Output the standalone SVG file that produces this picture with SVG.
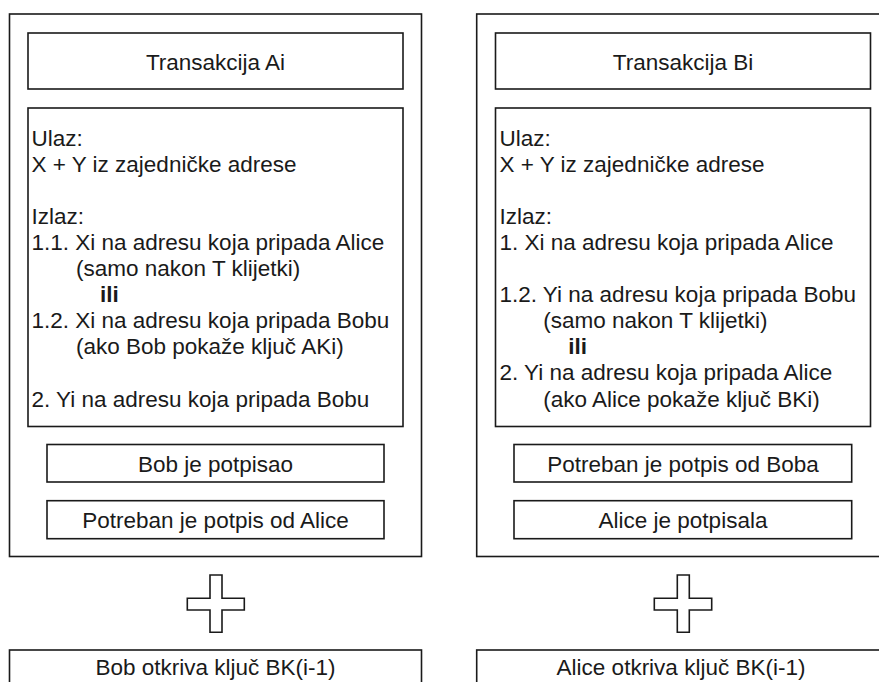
<svg xmlns="http://www.w3.org/2000/svg" width="879" height="682" viewBox="0 0 879 682">
<style>
.box{fill:#fff;stroke:#1a1a1a;stroke-width:1.6}
.t{font-family:"Liberation Sans",Arial,sans-serif;font-size:22.5px;fill:#1a1a1a}
.c{text-anchor:middle}
.b{font-weight:bold}
</style>
<rect width="879" height="682" fill="#fff"/>
<g id="txA">
<rect class="box" x="9.5" y="14" width="412" height="542.5"/>
<g id="titleA"><rect class="box" x="28" y="33" width="375" height="56"/><text class="t c" x="215.5" y="69.5">Transakcija Ai</text></g>
<g id="bodyA"><rect class="box" x="28" y="108" width="375" height="318.5"/>
<text class="t" x="31.5" y="145.5">Ulaz:</text>
<text class="t" x="31.5" y="171.6">X + Y iz zajedničke adrese</text>
<text class="t" x="31.5" y="223.8">Izlaz:</text>
<text class="t" x="31.5" y="249.9">1.1. Xi na adresu koja pripada Alice</text>
<text class="t" x="76" y="276">(samo nakon T klijetki)</text>
<text class="t b" x="100" y="302.1">ili</text>
<text class="t" x="31.5" y="328.2">1.2. Xi na adresu koja pripada Bobu</text>
<text class="t" x="76" y="354.3">(ako Bob pokaže ključ AKi)</text>
<text class="t" x="31.5" y="406.5">2. Yi na adresu koja pripada Bobu</text>
</g>
<g id="sigA1"><rect class="box" x="47" y="444.5" width="337" height="37.5"/><text class="t c" x="215.5" y="471.5">Bob je potpisao</text></g>
<g id="sigA2"><rect class="box" x="47" y="500.7" width="337" height="38"/><text class="t c" x="215.5" y="527.5">Potreban je potpis od Alice</text></g>
</g>
<g id="plusA"><path class="box" d="M210 575H222V598.3H244.3V610H222V632.3H210V610H187.3V598.3H210Z"/></g>
<g id="keyA"><rect class="box" x="9.5" y="650" width="412" height="40"/><text class="t c" x="215.5" y="675">Bob otkriva ključ BK(i-1)</text></g>

<g id="txB">
<rect class="box" x="476.7" y="14" width="412" height="542.5"/>
<g id="titleB"><rect class="box" x="495.5" y="33" width="375" height="56"/><text class="t c" x="683" y="69.5">Transakcija Bi</text></g>
<g id="bodyB"><rect class="box" x="495.5" y="108" width="375" height="318.5"/>
<text class="t" x="499.5" y="145.5">Ulaz:</text>
<text class="t" x="499.5" y="171.6">X + Y iz zajedničke adrese</text>
<text class="t" x="499.5" y="223.8">Izlaz:</text>
<text class="t" x="499.5" y="249.9">1. Xi na adresu koja pripada Alice</text>
<text class="t" x="499.5" y="302.1">1.2. Yi na adresu koja pripada Bobu</text>
<text class="t" x="543.3" y="328.2">(samo nakon T klijetki)</text>
<text class="t b" x="568.3" y="354.3">ili</text>
<text class="t" x="499.5" y="380.4">2. Yi na adresu koja pripada Alice</text>
<text class="t" x="543.3" y="406.5">(ako Alice pokaže ključ BKi)</text>
</g>
<g id="sigB1"><rect class="box" x="514" y="444.5" width="337.7" height="37.5"/><text class="t c" x="683" y="471.5">Potreban je potpis od Boba</text></g>
<g id="sigB2"><rect class="box" x="514" y="500.7" width="337.7" height="38"/><text class="t c" x="683" y="527.5">Alice je potpisala</text></g>
</g>
<g id="plusB"><path class="box" d="M677.3 575H689.3V598.3H711.7V610H689.3V632.3H677.3V610H654.3V598.3H677.3Z"/></g>
<g id="keyB"><rect class="box" x="476.7" y="650" width="412" height="40"/><text class="t c" x="681" y="675">Alice otkriva ključ BK(i-1)</text></g>
<g id="connectors"/>
</svg>
